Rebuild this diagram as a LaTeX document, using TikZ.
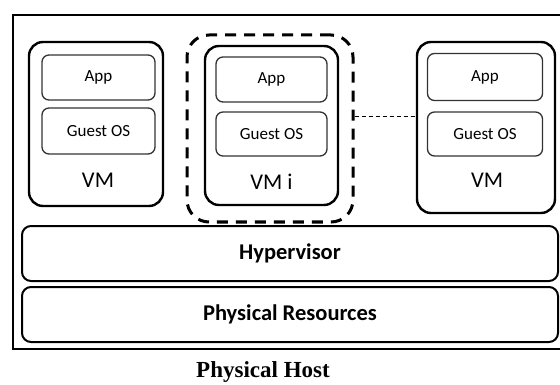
\documentclass[tikz,border=0pt]{standalone}
\usepackage{fontspec}
\setmainfont{Carlito}
\newfontfamily\hostfont{Liberation Serif}
\begin{document}
\begin{tikzpicture}[x=1pt,y=-1pt,
  vmbox/.style={draw=black, line width=2.4pt, rounded corners=14pt, inner sep=0pt},
  inbox/.style={draw=black!80, line width=1.3pt, rounded corners=7pt, inner sep=0pt,
    font=\fontsize{17}{19}\selectfont},
  vmlabel/.style={font=\fontsize{22.5}{24}\selectfont, inner sep=0pt},
  layer/.style={draw=black, line width=2pt, rounded corners=9pt, inner sep=0pt,
    font=\bfseries\fontsize{22.5}{24}\selectfont},
  dashbox/.style={draw=black, line width=3pt, rounded corners=22pt, dash pattern=on 11pt off 8pt},
  link/.style={draw=black, line width=1pt, dash pattern=on 4pt off 3pt}]
\clip (0,0) rectangle (560,385);
\fill[white] (0,0) rectangle (560,385);
% outer host frame
\node[draw=black, line width=2.6pt, minimum width=570, minimum height=334, inner sep=0pt] (host) at (298,182) {};
% VM 1
\node[vmbox, minimum width=134, minimum height=164] (vm1) at (96,124) {};
\node[inbox, minimum width=113, minimum height=45] (app1) at (98.5,77.5) {App};
\node[inbox, minimum width=113, minimum height=46] (gos1) at (98.5,131) {Guest OS};
\node[vmlabel] (lab1) at (98,180) {VM};
% VM i
\node[dashbox, minimum width=166, minimum height=187] (vmiout) at (270,128.5) {};
\node[vmbox, minimum width=133, minimum height=159] (vmi) at (271.5,125.5) {};
\node[inbox, minimum width=111, minimum height=45] (app2) at (271.5,79.5) {App};
\node[inbox, minimum width=111, minimum height=44] (gos2) at (271.5,134) {Guest OS};
\node[vmlabel] (lab2) at (271.5,182) {VM i};
% VM n
\node[vmbox, minimum width=138, minimum height=171] (vm3) at (486,127.5) {};
\node[inbox, minimum width=115, minimum height=47] (app3) at (485,77) {App};
\node[inbox, minimum width=115, minimum height=44] (gos3) at (485,134) {Guest OS};
\node[vmlabel] (lab3) at (487,180) {VM};
% link
\draw[link] ([yshift=11.5pt]vmiout.east) -- ([yshift=10.5pt]vm3.west);
% layers
\node[layer, minimum width=536, minimum height=55] (hyp) at (290,253.5) {Hypervisor};
\node[layer, minimum width=536, minimum height=55] (phys) at (290,314.5) {Physical Resources};
% caption
\node[font=\hostfont\bfseries\fontsize{23}{26}\selectfont, inner sep=0pt] (cap) at (263,372) {Physical Host};
\end{tikzpicture}
\end{document}
